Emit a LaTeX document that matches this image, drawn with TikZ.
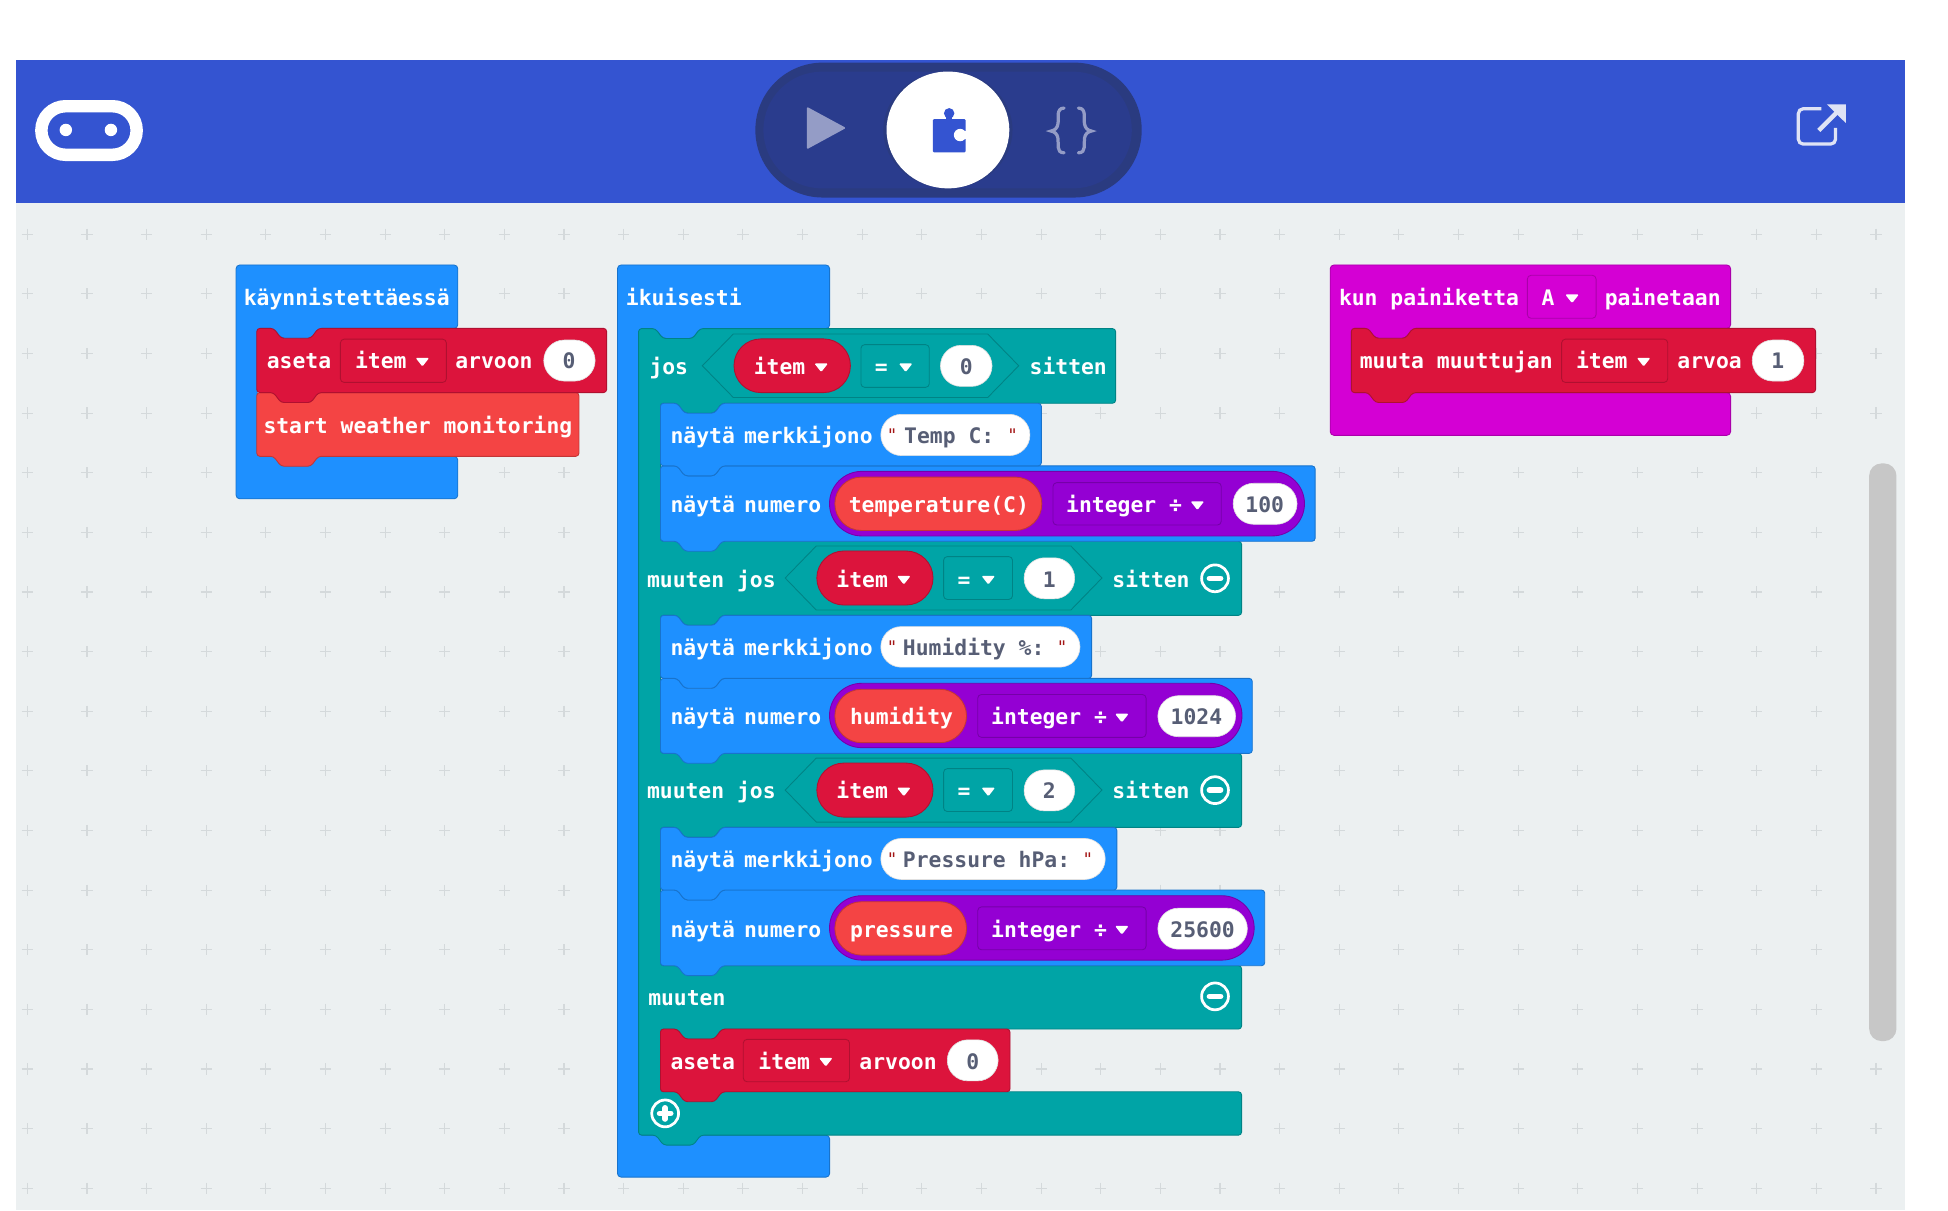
\documentclass[tikz,border=0pt]{standalone}
\usepackage{fontspec}
\newfontfamily\bkfont{DejaVu Sans Mono}[BoldFont={DejaVu Sans Mono Bold}]
\definecolor{bkhead}{HTML}{3454D1}
\definecolor{bkwork}{HTML}{ECF0F1}
\definecolor{bkgrid}{HTML}{D4D9DB}
\definecolor{bkblue}{HTML}{1E90FF}
\definecolor{bkblueD}{HTML}{1873CC}
\definecolor{bkteal}{HTML}{00A4A6}
\definecolor{bktealD}{HTML}{008385}
\definecolor{bkred}{HTML}{DC143C}
\definecolor{bkredD}{HTML}{B01030}
\definecolor{bkorange}{HTML}{F44444}
\definecolor{bkorangeD}{HTML}{C33636}
\definecolor{bkpurple}{HTML}{9400D3}
\definecolor{bkpurpleD}{HTML}{7600A9}
\definecolor{bkmag}{HTML}{D400D4}
\definecolor{bkmagD}{HTML}{AA00AA}
\definecolor{bkval}{HTML}{575E75}
\definecolor{bkquote}{HTML}{A31515}
\definecolor{bkdark}{HTML}{2A3C8D}
\definecolor{bkdarker}{HTML}{2A3B80}
\definecolor{bkicon}{HTML}{949CC6}
\definecolor{bkshare}{HTML}{DFE3F5}
\tikzset{
  blueb/.style={fill=bkblue,draw=bkblueD,line width=.7pt},
  tealb/.style={fill=bkteal,draw=bktealD,line width=.7pt},
  redb/.style={fill=bkred,draw=bkredD,line width=.7pt},
  orangeb/.style={fill=bkorange,draw=bkorangeD,line width=.7pt},
  purpleb/.style={fill=bkpurple,draw=bkpurpleD,line width=.7pt},
  magb/.style={fill=bkmag,draw=bkmagD,line width=.7pt},
  whitep/.style={fill=white,draw=black!12,line width=.5pt},
  lbltext/.style={anchor=base west,inner sep=0pt,text=white,font=\bkfont\bfseries\fontsize{17.2}{20}\selectfont},
  valtext/.style={anchor=base,inner sep=0pt,text=bkval,font=\bkfont\bfseries\fontsize{17.2}{20}\selectfont},
  strtext/.style={anchor=base west,inner sep=0pt,text=bkval,font=\bkfont\bfseries\fontsize{17.2}{20}\selectfont},
  quotetext/.style={anchor=base,inner sep=0pt,text=bkquote,font=\bkfont\fontsize{14}{16}\selectfont},
}
% stacked block: style,x1,y1,x2,y2
\newcommand{\bkstack}[5]{%
  \draw[#1,rounded corners=2.5pt] (#2+6,#3) -- (#2+13.5,#3) -- (#2+19.5,#3+8) -- (#2+43.5,#3+8) -- (#2+49.5,#3) -- (#4,#3) -- (#4,#5)
    -- (#2+49.5,#5) -- (#2+43.5,#5+8) -- (#2+19.5,#5+8) -- (#2+13.5,#5) -- (#2,#5) -- (#2,#3) -- cycle;}
% hat: style,x1,y1,x2,ytop,ybottom,yend
\newcommand{\bkhat}[7]{%
  \draw[#1,rounded corners=3pt] (#2+6,#3) -- (#4,#3) -- (#4,#5) -- (#2+66.5,#5) -- (#2+60.5,#5+8) -- (#2+36.5,#5+8) -- (#2+30.5,#5) -- (#2+17,#5)
    -- (#2+17,#6) -- (#4,#6) -- (#4,#7) -- (#2,#7) -- (#2,#3) -- cycle;}
\newcommand{\bkpill}[5]{%
  \pgfmathsetmacro\bkrad{(#5-#3)/2}%
  \draw[#1,rounded corners=\bkrad pt] (#2,#3) rectangle (#4,#5);}
\newcommand{\bkbox}[5]{\draw[#1,rounded corners=3pt] (#2,#3) rectangle (#4,#5);}
\newcommand{\bkhex}[4]{%
  \draw[tealb] (#1,{(#2+#4)/2}) -- (#1+25,#2) -- (#3-25,#2) -- (#3,{(#2+#4)/2}) -- (#3-25,#4) -- (#1+25,#4) -- cycle;}
\newcommand{\bklbl}[4]{\node[lbltext] (#1) at (#2-0.4,#3+7) {#4};}
\newcommand{\bkval}[4]{\node[valtext] (#1) at (#2,#3+7) {#4};}
\newcommand{\bkstr}[4]{\node[strtext] (#1) at (#2-0.4,#3+7) {#4};}
\newcommand{\bkquo}[3]{\node[quotetext] (#1) at (#2,#3+5) {"};}
\newcommand{\bktri}[2]{\fill[white,rounded corners=1pt] (#1-5.5,#2-2) -- (#1+5.5,#2-2) -- (#1,#2+5) -- cycle;}
\newcommand{\bkminus}[2]{%
  \draw[white,line width=2.2pt] (#1,#2) circle (10.8pt);
  \draw[white,line width=4.5pt,line cap=round] (#1-4.5,#2) -- (#1+4.5,#2);}
\newcommand{\bkplus}[2]{%
  \draw[white,line width=2.2pt] (#1,#2) circle (10.8pt);
  \draw[white,line width=4.5pt,line cap=round] (#1-4.5,#2) -- (#1+4.5,#2);
  \draw[white,line width=4.5pt,line cap=round] (#1,#2-4.5) -- (#1,#2+4.5);}
\begin{document}
\begin{tikzpicture}[x=1pt,y=-1pt]
\useasboundingbox (0,0) rectangle (1568,974);
\fill[white] (0,0) rectangle (1568,974);
\fill[bkwork] (13,163.7) rectangle (1533,974);
\fill[bkhead] (13,48.3) rectangle (1533,163.7);
% grid
\foreach \i in {0,...,31}{\foreach \j in {0,...,16}{
  \draw[bkgrid,line width=.9pt] (22+48*\i-4.5,188.5+48*\j) -- (22+48*\i+4.5,188.5+48*\j)
    (22+48*\i,188.5+48*\j-4.5) -- (22+48*\i,188.5+48*\j+4.5);}}
% scrollbar
\fill[black!22,rounded corners=10pt] (1504.5,373) rectangle (1526.5,838);
% header logo
\draw[white,line width=10pt,rounded corners=19.5pt] (33.3,85.5) rectangle (110,124.6);
\fill[white] (53,104.6) circle (5pt) (89.3,104.6) circle (5pt);
% header switch
\bkpill{fill=bkdarker,draw=none}{608}{50.4}{919}{159}
\bkpill{fill=bkdark,draw=none}{614.5}{57.7}{911}{151.6}
\fill[bkdarker] (763,104.6) ellipse [x radius=52pt,y radius=47pt];
\fill[white] (763,104.6) ellipse [x radius=49.4pt,y radius=47pt];
\fill[bkicon,rounded corners=1pt] (649.4,85.9) -- (681,103) -- (649.4,120.2) -- cycle;
\fill[bkhead,rounded corners=1pt] (750.8,95.8) rectangle (777.3,122.6);
\fill[bkhead] (764,91.2) circle (4.2pt);
\fill[bkhead] (761.5,92) rectangle (766.5,97);
\fill[white] (772.8,108.7) circle (5pt);
\fill[white] (773,105.7) rectangle (778,111.7);
\draw[bkicon,line width=2.6pt,line cap=round] (856.5,87) .. controls (849.5,87) and (852.5,96) .. (851.5,100) .. controls (851,103) and (849,105) .. (846,105.5) .. controls (849,106) and (851,108) .. (851.5,111) .. controls (852.5,115) and (849.5,123) .. (856.5,123);
\draw[bkicon,line width=2.6pt,line cap=round] (868,87) .. controls (875,87) and (872,96) .. (873,100) .. controls (873.5,103) and (875.5,105) .. (878.5,105.5) .. controls (875.5,106) and (873.5,108) .. (873,111) .. controls (872,115) and (875,123) .. (868,123);
% share icon
\draw[bkshare,line width=2.6pt,rounded corners=4pt] (1466,87.5) -- (1447.5,87.5) -- (1447.5,116) -- (1477.5,116) -- (1477.5,103);
\draw[bkshare,line width=3.6pt] (1464,105) -- (1481,88);
\fill[bkshare] (1485.7,84) -- (1470.5,84) -- (1485.7,99) -- cycle;

% ---------- left stack
\bkhat{blueb}{190}{213.3}{368.5}{264.3}{367.3}{401.5}
\bklbl{hatstart}{196.5}{239}{käynnistettäessä}
\bkstack{orangeb}{206.7}{316}{466}{367.3}
\bkstack{redb}{206.7}{264.3}{488.3}{316}
\bklbl{set1a}{215}{290}{aseta}
\bkbox{redb}{274}{273}{359.3}{307.8}
\bklbl{set1b}{286}{290}{item}
\bktri{340}{290}
\bklbl{set1c}{366.7}{290}{arvoon}
\bkpill{whitep}{437.7}{273.7}{479}{306.7}
\bkval{set1d}{458}{290}{0}
\bklbl{startw}{212.3}{342}{start weather monitoring}

% ---------- forever hat
\bkhat{blueb}{497}{213.3}{667.8}{264.5}{913.7}{947.5}
\bklbl{hatforever}{504}{239}{ikuisesti}

% teal if/else
\draw[tealb,rounded corners=2.5pt] (520,264.5) -- (527.5,264.5) -- (533.5,272.5) -- (557.5,272.5) -- (563.5,264.5) -- (898,264.5) -- (898,324.6)
 -- (581,324.6) -- (575,332.6) -- (551,332.6) -- (545,324.6) -- (531.6,324.6)
 -- (531.6,435.7) -- (999.4,435.7) -- (999.4,495.3)
 -- (581,495.3) -- (575,503.3) -- (551,503.3) -- (545,495.3) -- (531.6,495.3)
 -- (531.6,606.4) -- (999.4,606.4) -- (999.4,666)
 -- (581,666) -- (575,674) -- (551,674) -- (545,666) -- (531.6,666)
 -- (531.6,777.3) -- (999.4,777.3) -- (999.4,828.3)
 -- (581,828.3) -- (575,836.3) -- (551,836.3) -- (545,828.3) -- (531.6,828.3)
 -- (531.6,878.8) -- (999.4,878.8) -- (999.4,913.7)
 -- (564,913.7) -- (558,921.7) -- (534,921.7) -- (528,913.7) -- (514,913.7) -- (514,264.5) -- cycle;

% row: jos
\bklbl{ifa}{523}{294.5}{jos}
\bkhex{565.3}{268.8}{820}{320}
\bkpill{redb}{590.8}{272.8}{684.5}{316}
\bklbl{ifb}{607}{294.5}{item}
\bktri{661}{294.5}
\bkbox{tealb}{693}{277.4}{748}{311.8}
\bklbl{ifc}{704.5}{294.5}{=}
\bktri{729}{294.5}
\bkpill{whitep}{757}{278}{798.5}{311}
\bkval{ifd}{777.8}{294.5}{0}
\bklbl{ife}{829}{294.5}{sitten}

% row: muuten jos 1
\bklbl{eia}{521}{465.5}{muuten jos}
\bkhex{632}{439.5}{887}{491}
\bkpill{redb}{657.5}{443.5}{751}{487}
\bklbl{eib}{673.5}{465.5}{item}
\bktri{727.5}{465.5}
\bkbox{tealb}{759.5}{448}{815}{482.5}
\bklbl{eic}{771}{465.5}{=}
\bktri{795.5}{465.5}
\bkpill{whitep}{824.3}{449}{865}{482}
\bkval{eid}{844.6}{465.5}{1}
\bklbl{eie}{895.6}{465.5}{sitten}
\bkminus{978}{465.5}

% row: muuten jos 2
\bklbl{ejia}{521}{636}{muuten jos}
\bkhex{632}{610.2}{887}{661.7}
\bkpill{redb}{657.5}{614.2}{751}{657.7}
\bklbl{ejib}{673.5}{636}{item}
\bktri{727.5}{636}
\bkbox{tealb}{759.5}{618.7}{815}{653.2}
\bklbl{ejic}{771}{636}{=}
\bktri{795.5}{636}
\bkpill{whitep}{824.3}{619.7}{865}{652.7}
\bkval{ejid}{844.6}{636}{2}
\bklbl{ejie}{895.6}{636}{sitten}
\bkminus{978}{636}

% row: muuten
\bklbl{elsea}{522}{802.5}{muuten}
\bkminus{978}{802}
\bkplus{535.4}{896.2}

% blue blocks, lower first
\bkstack{blueb}{531.6}{375}{1058.6}{435.7}
\bkstack{blueb}{531.6}{324.6}{838.2}{375}
\bkstack{blueb}{531.6}{546}{1008}{606.4}
\bkstack{blueb}{531.6}{495.3}{878.7}{546}
\bkstack{blueb}{531.6}{716.4}{1018}{777.3}
\bkstack{blueb}{531.6}{666}{899}{716.4}

% Temp
\bklbl{sa}{540}{350}{näytä\kern-3pt{} merkkijono}
\bkpill{whitep}{709}{333.5}{829}{366.7}
\bkquo{sb}{718}{350}
\bkstr{sc}{728}{350}{Temp C:}
\bkquo{sd}{815}{350}
\bklbl{na}{540}{405.5}{näytä\kern-3pt{} numero}
\bkpill{purpleb}{667.7}{379.4}{1050}{431.4}
\bkpill{orangeb}{672}{384}{838.6}{427}
\bklbl{nb}{683.4}{405.5}{temperature(C)}
\bkbox{purpleb}{847.6}{388.5}{983}{422.6}
\bklbl{nc}{858.4}{405.5}{integer ÷}
\bktri{963.8}{405.5}
\bkpill{whitep}{992.6}{389}{1044}{422}
\bkval{nd}{1018}{405.5}{100}

% Humidity
\bklbl{ta}{540}{521}{näytä\kern-3pt{} merkkijono}
\bkpill{whitep}{709}{504.4}{869.3}{537}
\bkquo{tb}{718}{521}
\bkstr{tc}{727}{521}{Humidity \%:}
\bkquo{td}{855}{521}
\bklbl{oa}{540}{576.5}{näytä\kern-3pt{} numero}
\bkpill{purpleb}{667.7}{550}{999.7}{601.8}
\bkpill{orangeb}{672}{554.8}{778}{597.8}
\bklbl{ob}{684.5}{576.5}{humidity}
\bkbox{purpleb}{787}{559}{922.5}{593.5}
\bklbl{oc}{798}{576.5}{integer ÷}
\bktri{903}{576.5}
\bkpill{whitep}{932}{560}{994.5}{593}
\bkval{od}{963}{576.5}{1024}

% Pressure
\bklbl{ua}{540}{691.5}{näytä\kern-3pt{} merkkijono}
\bkpill{whitep}{709}{674.9}{889.6}{707.9}
\bkquo{ub}{718}{691.5}
\bkstr{uc}{727}{691.5}{Pressure hPa:}
\bkquo{ud}{875.7}{691.5}
\bklbl{pa}{540}{747.3}{näytä\kern-3pt{} numero}
\bkpill{purpleb}{667.7}{721}{1009.5}{772.8}
\bkpill{orangeb}{672}{725.8}{778}{768.8}
\bklbl{pb}{684.5}{747.3}{pressure}
\bkbox{purpleb}{787}{730}{922.5}{764.5}
\bklbl{pc}{798}{747.3}{integer ÷}
\bktri{903}{747.3}
\bkpill{whitep}{932}{731}{1004}{764}
\bkval{pd}{968}{747.3}{25600}

% else: set
\bkstack{redb}{531.6}{828.3}{813}{878.8}
\bklbl{qa}{540}{853.5}{aseta}
\bkbox{redb}{598.3}{836.6}{683.8}{870.7}
\bklbl{qb}{610.7}{853.5}{item}
\bktri{664.7}{853.5}
\bklbl{qc}{692}{853.5}{arvoon}
\bkpill{whitep}{762.5}{837}{803.4}{870}
\bkval{qd}{783}{853.5}{0}

% ---------- right stack
\bkhat{magb}{1070.7}{213.3}{1393}{264.3}{316}{350.4}
\bklbl{ra}{1078}{239}{kun painiketta}
\bkbox{magb}{1229.4}{221.6}{1284.7}{256.2}
\bklbl{rb}{1241}{239}{A}
\bktri{1265.4}{239}
\bklbl{rc}{1292}{239}{painetaan}
\bkstack{redb}{1087.7}{264.3}{1461.4}{316}
\bklbl{va}{1094.7}{290}{muuta muuttujan}
\bkbox{redb}{1257}{273}{1342.4}{307.8}
\bklbl{vb}{1268.8}{290}{item}
\bktri{1323}{290}
\bklbl{vc}{1350.4}{290}{arvoa}
\bkpill{whitep}{1410.4}{273.7}{1452}{306.7}
\bkval{vd}{1431}{290}{1}
\end{tikzpicture}
\end{document}
